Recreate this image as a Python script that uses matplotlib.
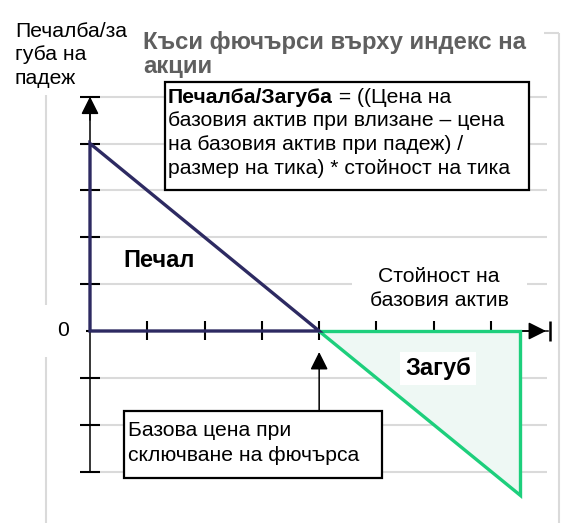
import matplotlib
matplotlib.use("Agg")
import matplotlib.pyplot as plt
from matplotlib.patches import Polygon, Rectangle

plt.rcParams["font.family"] = ["Liberation Sans", "DejaVu Sans"]

# data (x in tick steps of the underlying price, y in tick steps of P/L)
strike = 4.0
profit_x = [0.0, 4.0]
profit_y = [4.0, 0.0]
loss_x = [4.0, 7.5]
loss_y = [0.0, -3.5]
x_ticks = [1, 2, 3, 4, 5, 6, 7]
y_ticks = [-3, -2, -1, 0, 1, 2, 3, 4, 5]
x_axis_end = 8.0

title = ["Къси фючърси върху индекс на", "акции"]
y_label = ["Печалба/за", "губа на", "падеж"]
x_label = ["Стойност на", "базовия актив"]
formula_bold = "Печалба/Загуба"
formula_lines = [" = ((Цена на", "базовия актив при влизане – цена",
                 "на базовия актив при падеж) /", "размер на тика) * стойност на тика"]
strike_note = ["Базова цена при", "сключване на фючърса"]

# pixel layout of the picture
W, H = 561, 523
X0, Y0 = 90, 331
SX, SY = 57.29, 46.875

PURPLE = "#2D2A62"
GREEN = "#1DCF7C"
FILL = "#EEF8F4"
GRID = "#DADADA"
FS = 15.2


def d(xp, yp):
    return (xp - X0) / SX, (Y0 - yp) / SY


fig = plt.figure(figsize=(W / 100, H / 100), dpi=100, facecolor="white")
ax = fig.add_axes([0, 0, 1, 1])
ax.set_xlim(-X0 / SX, (W - X0) / SX)
ax.set_ylim((Y0 - H) / SY, Y0 / SY)
ax.axis("off")

# light frame
for (xa, ya), (xb, yb) in [((46, 95), (46, 307)), ((46, 350), (46, 530)),
                           ((544, 33), (559, 33)), ((559, 33), (559, 530))]:
    p, q = d(xa, ya), d(xb, yb)
    ax.plot([p[0], q[0]], [p[1], q[1]], color=GRID, lw=1.5, zorder=0,
            solid_capstyle="butt")

# gridlines
for yv in y_ticks:
    if yv != 0:
        ax.hlines(yv, 0, x_axis_end - 0.02, color=GRID, lw=1.5, zorder=1)

# axes lines and ticks
ax.plot([0, 0], [min(y_ticks), max(y_ticks)], color="black", lw=1.1, zorder=3)
ax.plot([0, x_axis_end], [0, 0], color="black", lw=1.1, zorder=3)
ax.hlines(y_ticks, -10 / SX, 10 / SX, color="black", lw=1.5, zorder=4)
ax.vlines(x_ticks, -9 / SY, 10 / SY, color="black", lw=1.5, zorder=4)
ax.vlines(x_axis_end + 0.03, -10 / SY, 10 / SY, color="black", lw=1.8, zorder=4)
arrow = dict(arrowstyle="-|>,head_length=0.6,head_width=0.3", color="black",
             lw=1.1, mutation_scale=18, shrinkA=0, shrinkB=0)
ax.annotate("", xy=(0, max(y_ticks)), xytext=(0, max(y_ticks) - 0.5),
            arrowprops=arrow, zorder=5)
ax.annotate("", xy=(x_axis_end - 0.04, 0), xytext=(x_axis_end - 0.6, 0),
            arrowprops=arrow, zorder=5)

# loss triangle
loss_poly = [(loss_x[0], loss_y[0]), (loss_x[1], 0.0), (loss_x[1], loss_y[1])]
ax.add_patch(Polygon(loss_poly, closed=True, facecolor=FILL, edgecolor=GREEN,
                     lw=2.4, joinstyle="miter", zorder=6))

# profit triangle
profit_poly = [(profit_x[0], 0.0), (profit_x[0], profit_y[0]), (profit_x[1], profit_y[1])]
ax.add_patch(Polygon(profit_poly, closed=True, facecolor="none", edgecolor=PURPLE,
                     lw=2.4, joinstyle="miter", zorder=7))

# texts
for i, line in enumerate(y_label):
    ax.text(*d(15, 37 + i * 23.5), line, fontsize=FS, va="baseline", ha="left")

for i, line in enumerate(title):
    ax.text(*d(143, 49 + i * 24), line, fontsize=17.2, fontweight="bold",
            color="#5F5F5F", va="baseline", ha="left")

ax.text(*d(123, 267), "Печал", fontsize=17, fontweight="bold", va="baseline", ha="left")
ax.text(*d(438, 375), "Загуб", fontsize=17, fontweight="bold", va="baseline",
        ha="center", zorder=8,
        bbox=dict(boxstyle="square,pad=0.2", facecolor="white", edgecolor="none"))
xb, yb = d(352, 258)
xe, ye = d(527, 312)
ax.add_patch(Rectangle((xb, ye), xe - xb, yb - ye, facecolor="white",
                       edgecolor="none", zorder=7.5))
for i, line in enumerate(x_label):
    ax.text(*d(439, 282 + i * 24), line, fontsize=FS, va="baseline",
            ha="center", zorder=8)
ax.text(*d(63, 331), "0", fontsize=FS, va="center", ha="center", zorder=8,
        bbox=dict(boxstyle="square,pad=0.8", facecolor="white", edgecolor="none"))

# formula box
bx0, by0 = d(165, 190)
bx1, by1 = d(529, 82)
ax.add_patch(Rectangle((bx0, by0), bx1 - bx0, by1 - by0, facecolor="white",
                       edgecolor="black", lw=1.6, zorder=9))
tb = ax.text(*d(168, 103), formula_bold, fontsize=FS, fontweight="bold",
             va="baseline", ha="left", zorder=10)
fig.canvas.draw()
ext = tb.get_window_extent()
ax.text(d(ext.x1, 0)[0], d(0, 103)[1], formula_lines[0], fontsize=FS,
        va="baseline", ha="left", zorder=10)
for i, line in enumerate(formula_lines[1:]):
    ax.text(*d(168, 126.5 + i * 23.5), line, fontsize=FS, va="baseline",
            ha="left", zorder=10)

# strike note box with arrow
nx0, ny0 = d(124, 478)
nx1, ny1 = d(382, 411)
ax.add_patch(Rectangle((nx0, ny0), nx1 - nx0, ny1 - ny0, facecolor="white",
                       edgecolor="black", lw=1.6, zorder=9))
for i, line in enumerate(strike_note):
    ax.text(*d(128, 436 + i * 25), line, fontsize=FS, va="baseline", ha="left",
            zorder=10)
ax.annotate("", xy=(strike, d(0, 352)[1]), xytext=(strike, ny1),
            arrowprops=arrow, zorder=9)

fig.savefig("out.png", dpi=100, facecolor="white")
